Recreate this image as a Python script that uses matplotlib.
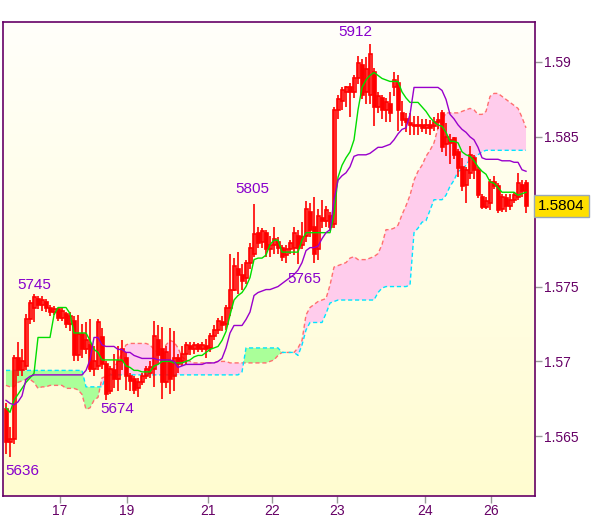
import numpy as np
import matplotlib.pyplot as plt
from matplotlib.colors import LinearSegmentedColormap
from matplotlib.transforms import blended_transform_factory

# prices kept in pips, 5745 means 1.5745
opens = [5668, 5646, 5648, 5702, 5694, 5697, 5728, 5736, 5742, 5738,
         5740, 5736, 5733, 5735, 5729, 5732, 5725, 5727, 5704, 5718,
         5708, 5711, 5695, 5697, 5716, 5698, 5680, 5694, 5688, 5700,
         5702, 5690, 5688, 5682, 5686, 5690, 5692, 5695, 5714, 5708,
         5686, 5700, 5690, 5702, 5700, 5705, 5710, 5708, 5711, 5708,
         5710, 5709, 5717, 5721, 5726, 5725, 5736, 5748, 5762, 5758,
         5756, 5766, 5772, 5786, 5780, 5786, 5775, 5778, 5780, 5776,
         5771, 5775, 5776, 5784, 5778, 5784, 5800, 5790, 5775, 5796,
         5794, 5797, 5792, 5868, 5874, 5880, 5883, 5880, 5889, 5898,
         5880, 5878, 5893, 5870, 5876, 5868, 5872, 5883, 5886, 5866,
         5862, 5859, 5858, 5857, 5858, 5856, 5858, 5857, 5860, 5866,
         5845, 5848, 5849, 5840, 5830, 5818, 5826, 5836, 5828, 5810,
         5803, 5806, 5820, 5817, 5802, 5809, 5804, 5808, 5810, 5818, 5819]
highs = [5672, 5656, 5704, 5713, 5708, 5732, 5741, 5745, 5744, 5744,
         5742, 5738, 5737, 5736, 5736, 5733, 5733, 5730, 5731, 5725,
         5726, 5728, 5710, 5728, 5722, 5700, 5697, 5705, 5710, 5714,
         5706, 5692, 5690, 5689, 5692, 5697, 5700, 5727, 5724, 5723,
         5710, 5722, 5720, 5705, 5710, 5713, 5713, 5713, 5712, 5713,
         5715, 5719, 5724, 5729, 5730, 5738, 5772, 5769, 5773, 5765,
         5768, 5779, 5805, 5790, 5789, 5788, 5784, 5790, 5783, 5778,
         5778, 5781, 5790, 5788, 5793, 5807, 5806, 5810, 5802, 5808,
         5804, 5800, 5870, 5878, 5883, 5884, 5886, 5891, 5904, 5902,
         5903, 5912, 5896, 5880, 5878, 5876, 5880, 5893, 5891, 5874,
         5866, 5866, 5864, 5864, 5862, 5862, 5861, 5863, 5866, 5868,
         5859, 5852, 5850, 5842, 5836, 5830, 5844, 5838, 5830, 5812,
         5810, 5822, 5824, 5819, 5812, 5812, 5812, 5813, 5826, 5821, 5821]
lows = [5638, 5636, 5645, 5690, 5690, 5694, 5725, 5726, 5735, 5734,
        5733, 5730, 5731, 5727, 5727, 5722, 5720, 5700, 5700, 5702,
        5705, 5693, 5690, 5694, 5695, 5674, 5678, 5682, 5680, 5694,
        5681, 5680, 5678, 5676, 5684, 5688, 5689, 5683, 5698, 5675,
        5682, 5678, 5680, 5692, 5697, 5698, 5704, 5705, 5706, 5706,
        5702, 5706, 5714, 5718, 5720, 5721, 5730, 5747, 5745, 5748,
        5752, 5762, 5770, 5776, 5776, 5770, 5770, 5772, 5772, 5767,
        5766, 5772, 5771, 5765, 5775, 5780, 5783, 5766, 5768, 5789,
        5790, 5787, 5789, 5862, 5868, 5870, 5863, 5876, 5885, 5875,
        5872, 5872, 5857, 5866, 5862, 5860, 5860, 5877, 5854, 5857,
        5853, 5851, 5851, 5851, 5853, 5852, 5851, 5854, 5855, 5840,
        5837, 5832, 5835, 5823, 5814, 5806, 5822, 5822, 5809, 5802,
        5802, 5801, 5815, 5799, 5800, 5800, 5801, 5806, 5808, 5810, 5799]
closes = [5646, 5648, 5702, 5694, 5700, 5728, 5739, 5743, 5738, 5741,
          5736, 5733, 5735, 5729, 5734, 5725, 5730, 5704, 5718, 5708,
          5714, 5695, 5700, 5726, 5698, 5678, 5695, 5688, 5700, 5708,
          5690, 5687, 5681, 5686, 5690, 5695, 5696, 5717, 5704, 5686,
          5706, 5688, 5702, 5698, 5705, 5711, 5708, 5711, 5708, 5711,
          5708, 5717, 5721, 5727, 5724, 5736, 5748, 5764, 5758, 5754,
          5766, 5776, 5785, 5779, 5787, 5775, 5778, 5782, 5776, 5770,
          5775, 5779, 5786, 5776, 5783, 5802, 5788, 5772, 5797, 5794,
          5801, 5790, 5868, 5875, 5881, 5883, 5880, 5889, 5899, 5878,
          5895, 5905, 5870, 5877, 5868, 5873, 5866, 5888, 5868, 5861,
          5860, 5858, 5857, 5858, 5856, 5858, 5856, 5860, 5861, 5843,
          5850, 5846, 5838, 5829, 5817, 5828, 5838, 5828, 5811, 5803,
          5807, 5820, 5817, 5801, 5810, 5804, 5808, 5811, 5819, 5814, 5804]

# green line (conversion line)
tenkan = [5669, 5666, 5674, 5678, 5682, 5686, 5689, 5692, 5716, 5716,
          5716, 5716, 5731, 5736, 5736, 5736, 5732, 5719, 5719, 5719,
          5719, 5714, 5708, 5706, 5701, 5701, 5701, 5701, 5701, 5701,
          5697, 5696, 5694, 5694, 5693, 5693, 5693, 5697, 5698, 5700,
          5700, 5700, 5699, 5699, 5699, 5700, 5701, 5703, 5704, 5704,
          5706, 5708, 5709, 5710, 5714, 5720, 5731, 5741, 5744, 5746,
          5750, 5756, 5768, 5769, 5769, 5771, 5778, 5781, 5781, 5773,
          5773, 5773, 5773, 5773, 5781, 5786, 5786, 5786, 5786, 5786,
          5786, 5786, 5798, 5823, 5831, 5836, 5840, 5848, 5868, 5883,
          5888, 5891, 5893, 5891, 5889, 5888, 5887, 5887, 5887, 5880,
          5876, 5873, 5873, 5873, 5870, 5867, 5863, 5860, 5858, 5857,
          5853, 5847, 5847, 5846, 5840, 5838, 5837, 5834, 5830, 5827,
          5825, 5820, 5819, 5816, 5813, 5813, 5813, 5813, 5811, 5812, 5813]
# purple line (base line)
kijun = [5674, 5672, 5671, 5673, 5677, 5688, 5690, 5691, 5691, 5691,
         5691, 5691, 5691, 5691, 5691, 5691, 5691, 5691, 5691, 5691,
         5694, 5701, 5716, 5716, 5711, 5710, 5710, 5710, 5708, 5708,
         5706, 5706, 5704, 5703, 5702, 5702, 5702, 5702, 5701, 5701,
         5701, 5701, 5700, 5696, 5697, 5698, 5698, 5698, 5698, 5698,
         5699, 5699, 5699, 5700, 5702, 5709, 5719, 5724, 5724, 5724,
         5728, 5733, 5744, 5746, 5747, 5748, 5748, 5749, 5750, 5752,
         5754, 5756, 5758, 5761, 5766, 5774, 5776, 5776, 5777, 5782,
         5786, 5788, 5808, 5821, 5824, 5826, 5830, 5837, 5838, 5838,
         5838, 5839, 5841, 5843, 5843, 5844, 5845, 5848, 5852, 5855,
         5856, 5865, 5883, 5883, 5883, 5883, 5883, 5883, 5883, 5881,
         5875, 5865, 5862, 5858, 5855, 5853, 5850, 5848, 5843, 5836,
         5835, 5835, 5835, 5835, 5834, 5834, 5834, 5833, 5833, 5828, 5827]
# cloud edges
span_a = [5684, 5683, 5683, 5686, 5687, 5688, 5688, 5686, 5682, 5683,
          5683, 5684, 5684, 5684, 5684, 5682, 5682, 5682, 5681, 5678,
          5668, 5669, 5674, 5676, 5689, 5690, 5691, 5696, 5700, 5706,
          5711, 5712, 5712, 5712, 5712, 5712, 5711, 5708, 5706, 5706,
          5711, 5714, 5713, 5709, 5703, 5701, 5700, 5699, 5699, 5699,
          5699, 5699, 5699, 5700, 5700, 5700, 5699, 5699, 5699, 5699,
          5699, 5699, 5699, 5699, 5699, 5699, 5700, 5701, 5704, 5706,
          5706, 5706, 5706, 5709, 5714, 5731, 5736, 5738, 5740, 5741,
          5742, 5751, 5763, 5764, 5765, 5766, 5769, 5770, 5768, 5768,
          5768, 5769, 5770, 5772, 5778, 5788, 5788, 5789, 5791, 5798,
          5804, 5811, 5821, 5827, 5831, 5837, 5841, 5846, 5856, 5861,
          5866, 5866, 5866, 5866, 5867, 5868, 5869, 5868, 5865, 5865,
          5867, 5877, 5879, 5879, 5877, 5875, 5873, 5871, 5869, 5863, 5856]
span_b = [5694, 5694, 5694, 5694, 5694, 5694, 5694, 5694, 5694, 5694,
          5694, 5694, 5694, 5694, 5694, 5694, 5694, 5694, 5694, 5694,
          5683, 5683, 5683, 5683, 5683, 5690, 5691, 5691, 5691, 5691,
          5691, 5691, 5691, 5691, 5691, 5691, 5691, 5691, 5691, 5691,
          5691, 5691, 5691, 5691, 5691, 5691, 5691, 5691, 5691, 5691,
          5691, 5691, 5691, 5691, 5691, 5691, 5691, 5691, 5691, 5693,
          5709, 5709, 5709, 5709, 5709, 5709, 5709, 5709, 5709, 5706,
          5706, 5706, 5706, 5704, 5711, 5721, 5726, 5726, 5726, 5726,
          5732, 5739, 5740, 5741, 5741, 5741, 5741, 5741, 5741, 5741,
          5741, 5741, 5741, 5746, 5749, 5750, 5750, 5750, 5750, 5750,
          5750, 5751, 5786, 5789, 5793, 5794, 5801, 5808, 5808, 5808,
          5811, 5817, 5821, 5827, 5828, 5831, 5835, 5836, 5838, 5840,
          5841, 5841, 5841, 5841, 5841, 5841, 5841, 5841, 5841, 5841, 5841]

day_labels = ['17', '19', '21', '22', '23', '24', '26']
day_bars = [13.5, 30.25, 50.5, 66.5, 82.75, 104.75, 121.25]

swing_bars = [1, 7, 25, 62, 73, 91]
swing_vals = [5636, 5745, 5674, 5805, 5765, 5912]
swing_offsets = [(12, -14), (0, 9), (11, -9), (-2, 15), (6, -15), (-15, 12)]

price_ticks = [1.565, 1.57, 1.575, 1.58, 1.585, 1.59]
price_labels = ['1.565', '1.57', '1.575', '1.58', '1.585', '1.59']
last_price = 1.5804


def to_price(v):
    return 1 + np.asarray(v, dtype=float) / 10000


plt.rcParams['font.family'] = ['Liberation Sans', 'DejaVu Sans']

fig = plt.figure(figsize=(6, 5.19), dpi=100)
ax = fig.add_axes([0.005, 0.0443, 0.8867, 0.9133])

x = np.arange(len(closes))
xlim = (-0.75, 132.25)
ylim = (1.56101, 1.59267)
ax.set_xlim(*xlim)
ax.set_ylim(*ylim)

# soft yellow background, paler at the top
bg = LinearSegmentedColormap.from_list('bg', ['#fffcd0', '#fffffa'])
ax.imshow(np.linspace(0, 1, 256).reshape(-1, 1), cmap=bg, origin='lower',
          extent=[xlim[0], xlim[1], ylim[0], ylim[1]], aspect='auto', zorder=0)

# cloud
a = to_price(span_a)
b = to_price(span_b)
ax.fill_between(x, a, b, where=a >= b, interpolate=True, color='#ffccec', lw=0, zorder=1)
ax.fill_between(x, a, b, where=a < b, interpolate=True, color='#aaff99', lw=0, zorder=1)
ax.plot(x, a, color='#ff6f6f', ls=(0, (3, 2)), lw=1, zorder=2)
ax.plot(x, b, color='#00e5ff', ls=(0, (3, 2)), lw=1, zorder=2)

# candles
o, h, l, c = [to_price(v) for v in (opens, highs, lows, closes)]
ax.vlines(x, l, h, color='red', lw=1.2, zorder=4)
up = c >= o
ax.bar(x[up], (c - o)[up], bottom=o[up], width=0.75, facecolor='none',
       edgecolor='red', lw=1.2, zorder=5)
ax.bar(x[~up], (o - c)[~up], bottom=c[~up], width=0.75, color='red',
       edgecolor='red', lw=1.2, zorder=5)

# indicator lines
ax.plot(x, to_price(tenkan), color='#00dd00', lw=1, zorder=6)
ax.plot(x, to_price(kijun), color='#9900cc', lw=1, zorder=6)

# swing labels
for bi, val, off in zip(swing_bars, swing_vals, swing_offsets):
    ax.annotate(str(val), xy=(bi, to_price(val)), xytext=off,
                textcoords='offset pixels', ha='center', va='center',
                color='#8800cc', fontsize=11, zorder=7)

# axes styling
for s in ax.spines.values():
    s.set_color('#660066')
    s.set_linewidth(1.2)
ax.yaxis.tick_right()
ax.set_yticks(price_ticks, price_labels)
ax.set_xticks(day_bars, day_labels)
ax.tick_params(axis='both', colors='#999999', labelcolor='#660066',
               length=5, width=1, labelsize=10)
ax.tick_params(axis='y', pad=1.5)
ax.tick_params(axis='x', pad=1)

# last price box sits over the 1.58 tick label like on the original
tr = blended_transform_factory(ax.transAxes, ax.transData)
ax.text(1.006, last_price, '%.4f' % last_price, transform=tr, ha='left', va='center',
        fontsize=11, family=['Liberation Sans Narrow', 'Liberation Sans'], color='black',
        bbox=dict(boxstyle='square,pad=0.25', fc='#ffe000', ec='#99a8b8', lw=1),
        clip_on=False, zorder=10)

fig.savefig('out.png', dpi=100)
